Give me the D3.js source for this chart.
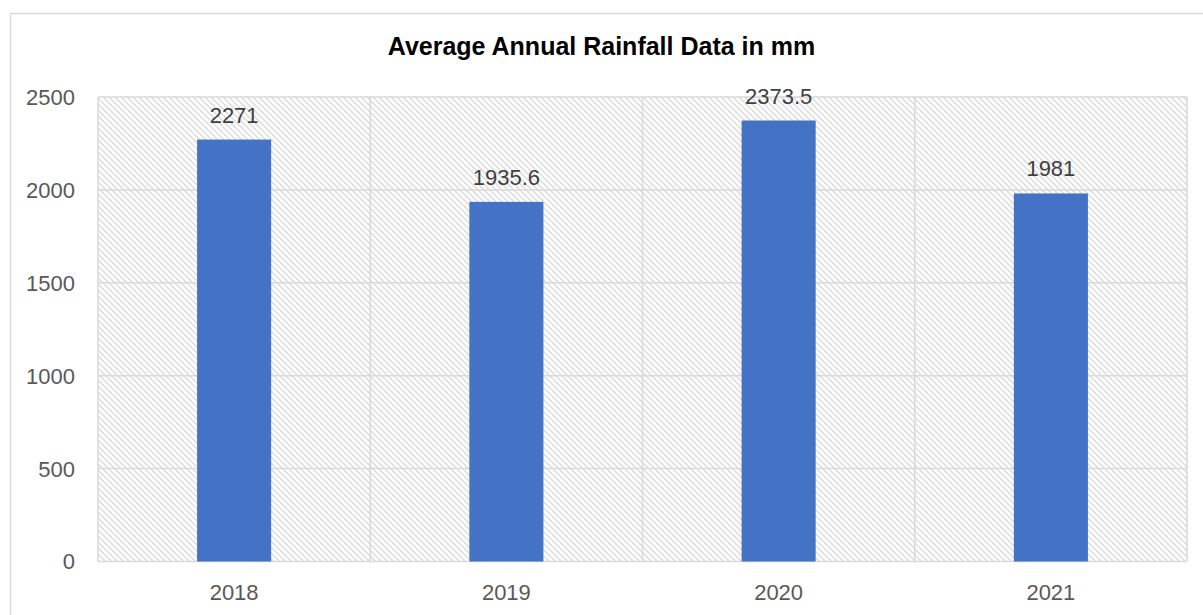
<!DOCTYPE html>
<html><head><meta charset="utf-8">
<script src="https://cdn.jsdelivr.net/npm/d3@7"></script>
<style>body{margin:0;background:#fff}svg{display:block}</style>
</head><body>
<svg id="c" width="1203" height="615"></svg>
<script>
const categories = ["2018","2019","2020","2021"];
const rainfall = [2271, 1935.6, 2373.5, 1981];
const labels = ["2271","1935.6","2373.5","1981"];
const yTicks = [0,500,1000,1500,2000,2500];
const title = "Average Annual Rainfall Data in mm";

const svg = d3.select("#c");
const m = {l:98, t:97, r:1187, b:561.5};
const font = "'Liberation Sans', Arial, sans-serif";

// outer border
svg.append("rect").attr("x",10.5).attr("y",13.5).attr("width",1203).attr("height",620)
  .attr("fill","#fff").attr("stroke","#d9d9d9").attr("stroke-width",1.5);

const defs = svg.append("defs");
const s = 6;
const pat = defs.append("pattern").attr("id","hatch").attr("patternUnits","userSpaceOnUse")
  .attr("width",s).attr("height",s);
pat.append("rect").attr("width",s).attr("height",s).attr("fill","#fff");
pat.append("path").attr("d",`M-1,-1L${s+1},${s+1}M-1,${s-1}L1,${s+1}M${s-1},-1L${s+1},1`)
  .attr("stroke","#dcdcdc").attr("stroke-width",1.5);

const x = d3.scaleBand().domain(categories).range([m.l,m.r]).padding(0);
const y = d3.scaleLinear().domain([0,2500]).range([m.b,m.t]);

svg.append("rect").attr("x",m.l).attr("y",m.t).attr("width",m.r-m.l).attr("height",m.b-m.t)
  .attr("fill","url(#hatch)");

// horizontal grid
svg.append("g").selectAll("line").data(yTicks).join("line")
  .attr("x1",m.l).attr("x2",m.r).attr("y1",d=>y(d)).attr("y2",d=>y(d))
  .attr("stroke","#d9d9d9").attr("stroke-width",1.5);
// vertical grid at category boundaries
const bounds = categories.map(c=>x(c)).concat([m.r]);
svg.append("g").selectAll("line").data(bounds).join("line")
  .attr("x1",d=>d).attr("x2",d=>d).attr("y1",m.t).attr("y2",m.b)
  .attr("stroke","#d9d9d9").attr("stroke-width",1.5);

// bars
const bw = x.bandwidth()*0.272;
svg.append("g").selectAll("rect").data(rainfall).join("rect")
  .attr("x",(d,i)=>x(categories[i])+x.bandwidth()/2-bw/2)
  .attr("y",d=>y(d)).attr("width",bw).attr("height",d=>y(0)-y(d))
  .attr("fill","#4472C4");

// data labels
svg.append("g").selectAll("text").data(rainfall).join("text")
  .attr("x",(d,i)=>x(categories[i])+x.bandwidth()/2)
  .attr("y",d=>y(d)-17)
  .attr("text-anchor","middle").attr("font-family",font).attr("font-size",22)
  .attr("fill","#404040").text((d,i)=>labels[i]);

// y axis labels
svg.append("g").selectAll("text").data(yTicks).join("text")
  .attr("x",75).attr("y",d=>y(d)).attr("dy","0.36em")
  .attr("text-anchor","end").attr("font-family",font).attr("font-size",22)
  .attr("fill","#595959").text(d=>d);

// x axis labels
svg.append("g").selectAll("text").data(categories).join("text")
  .attr("x",d=>x(d)+x.bandwidth()/2).attr("y",600)
  .attr("text-anchor","middle").attr("font-family",font).attr("font-size",22)
  .attr("fill","#595959").text(d=>d);

// title
svg.append("text").attr("x",601.5).attr("y",55).attr("text-anchor","middle")
  .attr("font-family",font).attr("font-weight","bold").attr("font-size",25)
  .attr("fill","#000").text(title);
</script>
</body></html>
